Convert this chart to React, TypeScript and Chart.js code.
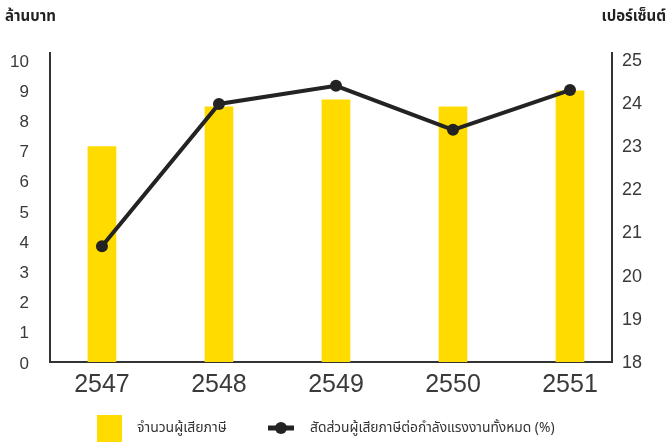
import React, { useEffect, useRef } from "react";
import { Chart, registerables } from "chart.js";

Chart.register(...registerables);

const years = ["2547", "2548", "2549", "2550", "2551"];
const taxpayers = [7.13, 8.45, 8.68, 8.45, 8.98];
const ratioPct = [20.68, 23.98, 24.4, 23.38, 24.3];
const leftTicks = [0, 1, 2, 3, 4, 5, 6, 7, 8, 9, 10];
const rightTicks = [18, 19, 20, 21, 22, 23, 24, 25];
const leftTitle = "ล้านบาท";
const rightTitle = "เปอร์เซ็นต์";
const barLabel = "จำนวนผู้เสียภาษี";
const lineLabel = "สัดส่วนผู้เสียภาษีต่อกำลังแรงงานทั้งหมด (%)";

const YELLOW = "#FFDB00";
const DARK = "#232323";
const AXIS = "#333333";
const THAI_FONT = "'Noto Sans', 'Noto Sans Thai', 'Open Sans', sans-serif";
const NUM_FONT = "'Liberation Sans', Arial, sans-serif";

export default function App() {
  const ref = useRef<HTMLCanvasElement | null>(null);

  useEffect(() => {
    if (!ref.current) return;
    const overlay = {
      id: "overlay",
      afterDraw(chart: any) {
        const ctx = chart.ctx;
        ctx.save();
        ctx.fillStyle = "#222";
        ctx.font = `bold 15px ${THAI_FONT}`;
        ctx.textBaseline = "alphabetic";
        ctx.textAlign = "left";
        ctx.fillText(leftTitle, 5, 21);
        ctx.textAlign = "right";
        ctx.fillText(rightTitle, 666, 21);
        // legend
        const cy = 428;
        ctx.fillStyle = YELLOW;
        ctx.fillRect(97, 415, 25, 27);
        ctx.fillStyle = "#333";
        ctx.font = `14px ${THAI_FONT}`;
        ctx.textAlign = "left";
        ctx.textBaseline = "middle";
        ctx.fillText(barLabel, 137, cy);
        ctx.strokeStyle = DARK;
        ctx.lineWidth = 5;
        ctx.beginPath();
        ctx.moveTo(268, cy);
        ctx.lineTo(294, cy);
        ctx.stroke();
        ctx.fillStyle = DARK;
        ctx.beginPath();
        ctx.arc(281, cy, 6, 0, Math.PI * 2);
        ctx.fill();
        ctx.fillStyle = "#333";
        ctx.font = `13.8px ${THAI_FONT}`;
        ctx.fillText(lineLabel, 310, cy);
        ctx.restore();
      },
    };

    const chart = new Chart(ref.current, {
      type: "bar",
      data: {
        datasets: [
          {
            type: "line",
            label: lineLabel,
            data: ratioPct.map((v, i) => ({ x: i, y: v })),
            yAxisID: "y1",
            xAxisID: "x",
            borderColor: DARK,
            backgroundColor: DARK,
            borderWidth: 4,
            pointRadius: 6,
            pointBackgroundColor: DARK,
            pointBorderWidth: 0,
            tension: 0,
            order: 0,
          } as any,
          {
            type: "bar",
            label: barLabel,
            data: taxpayers.map((v, i) => ({ x: i, y: v })),
            yAxisID: "y",
            xAxisID: "x",
            backgroundColor: YELLOW,
            borderWidth: 0,
            barThickness: 28,
            order: 1,
          } as any,
        ],
      },
      options: {
        animation: false,
        responsive: false,
        maintainAspectRatio: false,
        layout: { padding: { top: 53, left: 0, right: 0, bottom: 0 } },
        plugins: { legend: { display: false }, tooltip: { enabled: false } },
        scales: {
          x: {
            type: "linear",
            position: "bottom",
            offset: false,
            min: -0.444,
            max: 4.359,
            afterBuildTicks: (s: any) => {
              s.ticks = years.map((_, i) => ({ value: i }));
            },
            afterFit: (s: any) => {
              s.height = 81;
            },
            ticks: {
              callback: (v: any) => years[v] ?? "",
              color: "#3a3a3a",
              font: { family: NUM_FONT, size: 25 },
              padding: 8,
              autoSkip: false,
              maxRotation: 0,
            },
            grid: { display: false, drawTicks: false, offset: false },
            border: { display: true, color: AXIS, width: 2 },
          } as any,
          y: {
            type: "linear",
            position: "left",
            min: 0,
            max: 10.23,
            afterBuildTicks: (s: any) => {
              s.ticks = leftTicks.map((v) => ({ value: v }));
            },
            afterFit: (s: any) => {
              s.width = 50;
            },
            ticks: {
              color: "#3a3a3a",
              font: { family: NUM_FONT, size: 17 },
              padding: 21,
              labelOffset: 2,
            },
            grid: { display: false, drawTicks: false },
            border: { display: true, color: AXIS, width: 2 },
          } as any,
          y1: {
            type: "linear",
            position: "right",
            min: 18,
            max: 25.16,
            afterBuildTicks: (s: any) => {
              s.ticks = rightTicks.map((v) => ({ value: v }));
            },
            afterFit: (s: any) => {
              s.width = 59;
            },
            ticks: {
              color: "#3a3a3a",
              font: { family: NUM_FONT, size: 18 },
              padding: 10,
              labelOffset: 1,
            },
            grid: { display: false, drawTicks: false },
            border: { display: true, color: AXIS, width: 2 },
          } as any,
        },
      },
      plugins: [overlay],
    });
    return () => chart.destroy();
  }, []);

  return (
    <div style={{ position: "absolute", left: 0, top: 0, width: 671, height: 443, background: "#fff" }}>
      <canvas ref={ref} width={671} height={443} style={{ display: "block", width: 671, height: 443 }} />
    </div>
  );
}
